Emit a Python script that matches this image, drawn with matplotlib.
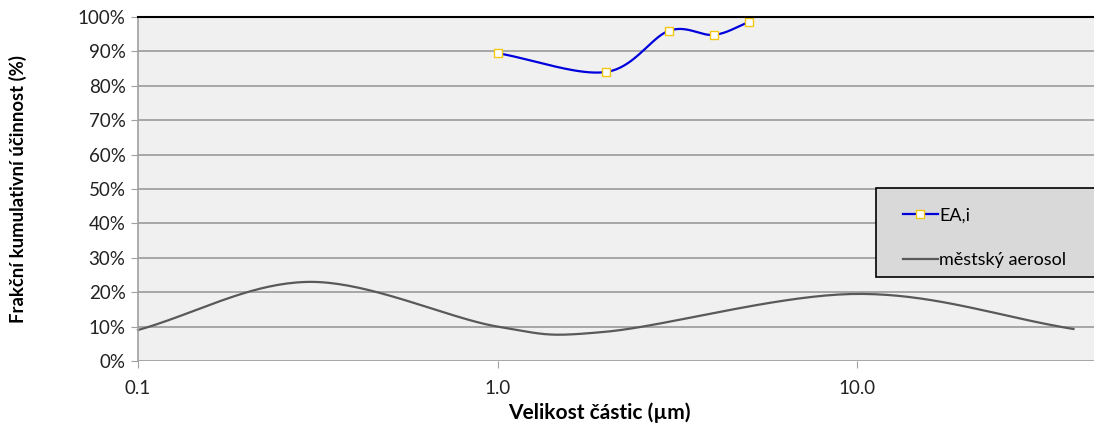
import numpy as np
import matplotlib.pyplot as plt
from matplotlib.patches import Rectangle
from matplotlib.ticker import FixedLocator, FixedFormatter, PercentFormatter, NullLocator

plt.rcParams['font.family'] = ['Lato', 'DejaVu Sans']

# data
ea_x = [1.0, 2.0, 3.0, 4.0, 5.0]
ea_y = [89.5, 84.0, 96.0, 94.8, 98.5]
aero_x = [0.1, 0.3, 1.0, 2.0, 10.0, 40.0]
aero_y = [9.0, 23.0, 10.0, 8.5, 19.5, 9.3]
xticks = [0.1, 1.0, 10.0]
xticklabels = ["0.1", "1.0", "10.0"]


def smooth(xs, ys, n=40):
    # excel-like smoothing: catmull-rom spline in (log x, y)
    px = np.log10(xs)
    py = np.asarray(ys, float)
    px = np.concatenate([[2 * px[0] - px[1]], px, [2 * px[-1] - px[-2]]])
    py = np.concatenate([[2 * py[0] - py[1]], py, [2 * py[-1] - py[-2]]])
    ox, oy = [], []
    t = np.linspace(0, 1, n)
    for i in range(1, len(px) - 2):
        mx0 = (px[i + 1] - px[i - 1]) / 2
        my0 = (py[i + 1] - py[i - 1]) / 2
        mx1 = (px[i + 2] - px[i]) / 2
        my1 = (py[i + 2] - py[i]) / 2
        h00 = 2 * t**3 - 3 * t**2 + 1
        h10 = t**3 - 2 * t**2 + t
        h01 = -2 * t**3 + 3 * t**2
        h11 = t**3 - t**2
        ox.append(h00 * px[i] + h10 * mx0 + h01 * px[i + 1] + h11 * mx1)
        oy.append(h00 * py[i] + h10 * my0 + h01 * py[i + 1] + h11 * my1)
    return 10 ** np.concatenate(ox), np.concatenate(oy)


fig = plt.figure(figsize=(10.94, 4.23), dpi=100)
ax = fig.add_axes([138 / 1094, 62 / 423, (1094 - 138) / 1094, 344 / 423])
ax.set_facecolor('#f0f0f0')

ax.set_xscale('log')
ax.set_xlim(0.1, 10 ** (1 + (1094 - 857) / 359.5))
ax.set_ylim(0, 100)

ax.yaxis.set_major_locator(FixedLocator(np.arange(0, 101, 10)))
ax.yaxis.set_major_formatter(PercentFormatter(decimals=0))
ax.xaxis.set_major_locator(FixedLocator(xticks))
ax.xaxis.set_major_formatter(FixedFormatter(xticklabels))
ax.xaxis.set_minor_locator(NullLocator())
ax.grid(axis='y', color='#a6a6a6', linewidth=1.4)
ax.set_axisbelow(True)

for s in ['right', 'bottom']:
    ax.spines[s].set_visible(False)
ax.spines['top'].set_color('black')
ax.spines['top'].set_linewidth(1.5)
ax.spines['left'].set_color('#a0a0a0')
ax.spines['left'].set_linewidth(1.2)
ax.tick_params(axis='y', length=5, color='#a0a0a0', labelsize=13.5, pad=4, labelcolor='#222222')
ax.tick_params(axis='x', length=5, color='#a0a0a0', labelsize=13.5, pad=9, labelcolor='#222222')

sx, sy = smooth(aero_x, aero_y)
ax.plot(sx, sy, color='#595959', linewidth=1.6, label='městský aerosol', clip_on=False)
bx, by = smooth(ea_x, ea_y)
ax.plot(bx, by, color='#0000dd', linewidth=1.6)
ax.plot(ea_x, ea_y, linestyle='none', marker='s', markersize=5.5,
        markerfacecolor='white', markeredgecolor='#f2c811', markeredgewidth=1.0, clip_on=False)
h1, = ax.plot([], [], color='#0000dd', linewidth=1.6, marker='s', markersize=5.5,
              markerfacecolor='white', markeredgecolor='#f2c811', markeredgewidth=1.0, label='EA,i')

ax.set_ylabel("Frakční kumulativní účinnost (%)", fontsize=13.3, fontweight='bold')
ax.yaxis.set_label_coords(-111 / 956, 0.5)
fig.text(599 / 1094, 1 - 413 / 423, "Velikost částic (µm)", fontsize=15, fontweight='bold',
         ha='center', va='center')

# legend box
fig.patches.append(Rectangle((876 / 1094, 1 - 277 / 423), 0.3, 89 / 423, transform=fig.transFigure,
                             facecolor='#d9d9d9', edgecolor='black', linewidth=1.2, zorder=3))
leg = fig.legend(handles=[h1, ax.lines[0]], loc='upper left',
                 bbox_to_anchor=(887 / 1094, 1 - 191 / 423), frameon=False,
                 fontsize=13, handlelength=1.9, handletextpad=0.1, labelspacing=1.6)
leg.set_zorder(4)

fig.savefig('out.png', dpi=100)
